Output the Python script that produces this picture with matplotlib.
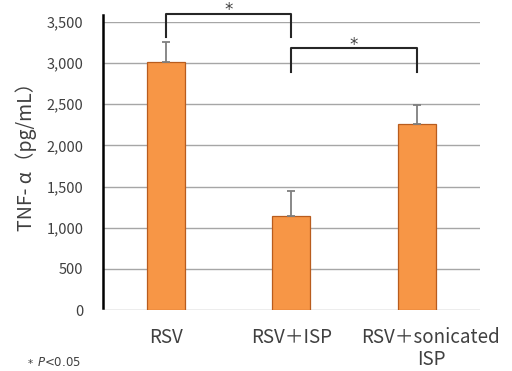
import matplotlib
matplotlib.use('Agg')
import matplotlib.pyplot as plt
from matplotlib.transforms import ScaledTranslation

groups = ['RSV', 'RSV＋ISP', 'RSV＋sonicated\nISP']
tnf_mean = [3010, 1140, 2260]
tnf_err = [245, 310, 230]
yticks = [0, 500, 1000, 1500, 2000, 2500, 3000, 3500]
# significance brackets: (left group, right group, top, leg bottom)
brackets = [(0, 1, 3600, 3320), (1, 2, 3180, 2890)]

jp = ['Noto Sans CJK JP', 'DejaVu Sans']

fig = plt.figure(figsize=(5.12, 3.71), dpi=100)
ax = fig.add_axes([0.201, 0.164, 0.736, 0.777])

x = list(range(len(groups)))
ax.bar(x, tnf_mean, width=0.3, color='#F79646', edgecolor='#B85C1E',
       linewidth=0.9, zorder=3)
ax.errorbar(x, tnf_mean, yerr=[[0] * len(x), tnf_err], fmt='none',
            ecolor='#7F7F7F', elinewidth=1.3, capsize=3, capthick=1.3, zorder=4)

ax.set_xlim(-0.5, 2.5)
ax.set_ylim(0, 3500)
ax.set_yticks(yticks)
ax.set_yticklabels([f'{v:,}' for v in yticks], fontsize=10.5, color='#404040',
                   family=jp)
ax.set_xticks(x)
ax.set_xticklabels(groups, fontsize=13.5, color='#404040', family=jp,
                   linespacing=1.1)
ax.tick_params(length=0)
ax.tick_params(axis='y', pad=14)
ax.tick_params(axis='x', pad=12)
ax.grid(axis='y', color='#A6A6A6', linewidth=1.0, zorder=0)
for s in ax.spines.values():
    s.set_visible(False)

# the long last label sits a little right of its bar in the original
lab = ax.get_xticklabels()[2]
lab.set_transform(lab.get_transform() + ScaledTranslation(0.14, 0, fig.dpi_scale_trans))

# thick left axis line drawn by hand (runs a bit past the top)
ax.plot([-0.5, -0.5], [30, 3580], color='black', linewidth=1.8,
        clip_on=False, zorder=5)

ax.set_ylabel('TNF- α（pg/mL）', fontsize=14, color='#404040', family=jp)
ax.yaxis.set_label_coords(-0.175, 0.55)

for g1, g2, top, bottom in brackets:
    ax.plot([g1, g1, g2, g2], [bottom, top, top, bottom], color='#262626',
            linewidth=1.5, clip_on=False, zorder=5)
    ax.text((g1 + g2) / 2, top + 40, '*', ha='center', va='center',
            fontsize=12, color='#404040', clip_on=False)

fig.text(0.055, 0.006, '* ', fontsize=7.5, color='#404040', ha='left', va='bottom')
fig.text(0.073, 0.006, r'$P$<0.05', fontsize=8.5, color='#404040',
         ha='left', va='bottom')

fig.savefig('out.png', dpi=100)
